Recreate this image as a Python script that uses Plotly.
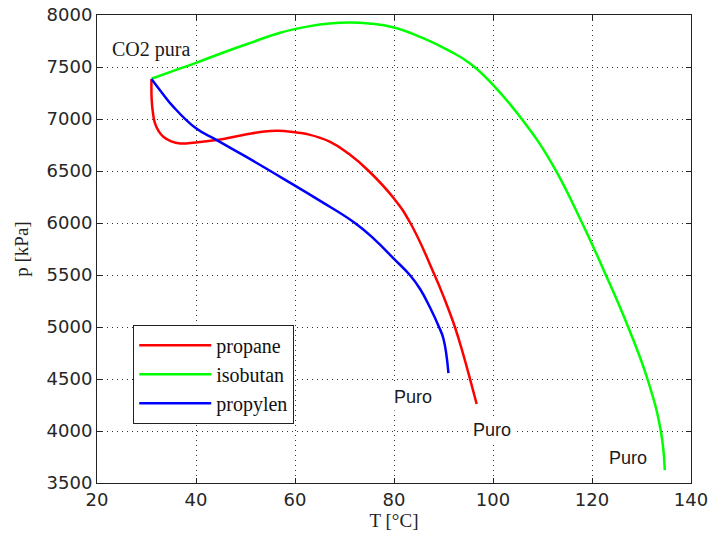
import plotly.graph_objects as go

# ---- data ----
propane_T = [31.0, 31.05, 31.3, 31.7, 32.5, 33.4, 35.0, 36.8, 40.0, 44.2, 50.0, 53.0, 56.6, 60.0,
             62.4, 67.1, 71.0, 74.9, 80.0, 83.3, 88.2, 90.2, 92.3, 94.0, 95.5, 96.7]
propane_p = [7384, 7184, 7060, 6960, 6880, 6830, 6785, 6765, 6775, 6797, 6850, 6875, 6887, 6872,
             6855, 6781, 6660, 6500, 6235, 6000, 5500, 5270, 5000, 4735, 4475, 4260]

isobutan_T = [31.0, 35.0, 40.0, 45.0, 51.0, 57.0, 63.0, 67.0, 71.0, 75.0, 80.0, 86.0, 91.0, 95.5,
              100.0, 105.8, 111.9, 118.0, 122.8, 127.3, 131.2, 133.9, 134.7]
isobutan_p = [7387, 7455, 7540, 7630, 7732, 7830, 7893, 7919, 7928, 7919, 7880, 7775, 7660, 7530,
              7329, 7000, 6572, 6000, 5500, 5000, 4500, 4000, 3622]

propylen_T = [31.0, 33.0, 35.4, 40.0, 44.2, 50.0, 57.6, 65.0, 72.1, 76.0, 80.0, 83.2,
              85.3, 87.3, 89.0, 90.0, 91.0]
propylen_p = [7384, 7260, 7119, 6910, 6797, 6640, 6427, 6215, 6000, 5845, 5655, 5500,
              5363, 5185, 5010, 4885, 4556]

series_names = ["propane", "isobutan", "propylen"]
series_colors = ["#ff0000", "#00ff00", "#0000ff"]

x_ticks = [20, 40, 60, 80, 100, 120, 140]
y_ticks = [3500, 4000, 4500, 5000, 5500, 6000, 6500, 7000, 7500, 8000]

labels_text = ["CO2 pura", "Puro", "Puro", "Puro"]
labels_T = [31.0, 83.8, 99.8, 127.3]
labels_p = [7667, 4331, 4012, 3741]

# ---- figure ----
fig = go.Figure()
for name, color, T, p in zip(series_names, series_colors,
                             [propane_T, isobutan_T, propylen_T],
                             [propane_p, isobutan_p, propylen_p]):
    fig.add_trace(go.Scatter(x=T, y=p, mode="lines", name=name,
                             line=dict(color=color, width=2.5, shape="spline", smoothing=1.3)))

axis_common = dict(
    showline=True, linecolor="#222", linewidth=1, mirror="ticks",
    ticks="inside", ticklen=5, tickcolor="#222",
    showgrid=True, gridcolor="#333", gridwidth=1, griddash="1px,4px",
    zeroline=False, automargin=False, ticklabeloverflow="allow",
    tickfont=dict(family="DejaVu Sans", size=18, color="#262626"),
)

fig.update_xaxes(range=[20, 140], tickvals=x_ticks, ticktext=[str(v) for v in x_ticks],
                 title=dict(text="T [°C]", font=dict(family="Liberation Serif", size=19, color="#222"),
                            standoff=2),
                 **axis_common)
fig.update_yaxes(range=[3500, 8000], tickvals=y_ticks, ticktext=[str(v) for v in y_ticks],
                 title=dict(text="p [kPa]", font=dict(family="Liberation Serif", size=19, color="#222"),
                            standoff=12),
                 **axis_common)

for i, (txt, T, p) in enumerate(zip(labels_text, labels_T, labels_p)):
    if i == 0:
        font = dict(family="Liberation Serif", size=20, color="#1a1a1a")
        fig.add_annotation(x=T, y=p, text=txt, showarrow=False, font=font)
    else:
        font = dict(family="Liberation Sans", size=18, color="#1a1a1a")
        fig.add_annotation(x=T, y=p, text=txt, showarrow=False, font=font,
                           bgcolor="white", borderpad=3)

fig.update_layout(
    width=710, height=541,
    margin=dict(l=97, r=19, t=15, b=58),
    paper_bgcolor="white", plot_bgcolor="white",
    showlegend=True,
    legend=dict(x=0.061, y=0.338, xanchor="left", yanchor="top",
                bgcolor="white", bordercolor="#222", borderwidth=1,
                font=dict(family="Liberation Serif", size=20, color="#111"),
                itemwidth=72, tracegroupgap=0),
)

# remove the default 8px page margin so the 710x541 figure fills the window exactly
fig.write_html(
    "out.html",
    config={"displayModeBar": False},
    post_script="document.body.style.margin='0';"
                "document.documentElement.style.overflow='hidden';",
)
